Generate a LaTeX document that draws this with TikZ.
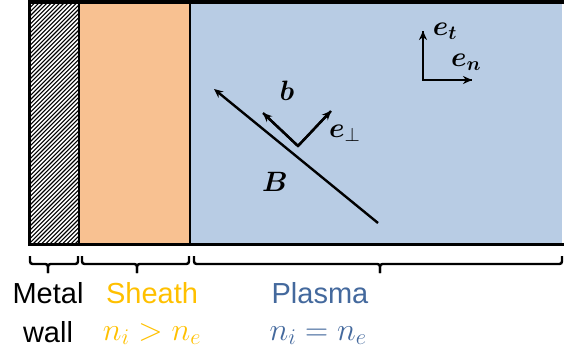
\documentclass[tikz,border=0pt]{standalone}
\usepackage{fix-cm}
\usepackage{amsmath}
\usepackage{bm}
\usepackage{fontspec}
\setmainfont{Liberation Sans}
\usetikzlibrary{arrows.meta}
\definecolor{sheathfill}{HTML}{F8C191}
\definecolor{plasmafill}{HTML}{B8CCE4}
\definecolor{sheathtxt}{HTML}{FFC000}
\definecolor{plasmatxt}{HTML}{44699D}
\tikzset{
  border/.style={line width=3pt, line cap=rect},
  vec/.style={line width=2.4pt, -{Stealth[length=9pt,width=8pt]}},
  bracestyle/.style={line width=2.4pt, rounded corners=2.5pt},
  lbl/.style={font=\fontsize{29}{34}\selectfont, anchor=base, inner sep=0pt},
  mlbl/.style={font=\fontsize{32}{38}\selectfont, anchor=base, inner sep=0pt},
  vlbl/.style={font=\fontsize{28}{32}\selectfont, inner sep=0pt},
}
\begin{document}
\begin{tikzpicture}[x=1pt,y=-1pt]
\useasboundingbox (0,0) rectangle (582,364);
% regions
\fill[white] (29,2) rectangle (79,244);
\fill[sheathfill] (79,2) rectangle (190,244);
\fill[plasmafill] (190,2) rectangle (562,244);
\begin{scope}
  \clip (29,2) rectangle (79,244);
  \foreach \i in {-60,...,14}
    \draw[line width=1.1pt] ({29+\i*4.2},248) -- ++(250,-250);
\end{scope}
\draw[border] (562,2) -- (29,2) -- (29,244) -- (562,244);
\draw[line width=2pt] (79,2) -- (79,244);
\draw[line width=2.6pt] (190,2) -- (190,244);
% field vectors
\coordinate (Bs) at (378,223);
\coordinate (Be) at (214,89);
\draw[vec] (Bs) -- (Be);
\coordinate (c) at (298,146);
\coordinate (bt) at (263,113);
\coordinate (pt) at (331,111);
\draw[line width=2.4pt] (bt) -- (c) -- (pt);
\draw[vec] (c) -- (bt);
\draw[vec] (c) -- (pt);
\node[vlbl] (lb) at (287,91) {$\bm{b}$};
\node[vlbl,anchor=west] (lp) at (329,133) {$\bm{e}_{\perp}$};
\node[vlbl] (lB) at (275,182) {$\bm{B}$};
% coordinate system
\coordinate (o) at (423,80);
\coordinate (t) at (423,31);
\coordinate (n) at (472,80);
\draw[line width=2.4pt] (t) -- (o) -- (n);
\draw[vec] (o) -- (t);
\draw[vec] (o) -- (n);
\node[vlbl] (lt) at (445,31) {$\bm{e}_{\bm{t}}$};
\node[vlbl] (ln) at (466,62) {$\bm{e}_{\bm{n}}$};
% braces
\draw[bracestyle] (30,256) -- (30,264) -- (48,264) -- (48,273);
\draw[bracestyle] (48,273) -- (48,264) -- (78,264) -- (78,256);
\draw[bracestyle] (82,256) -- (82,264) -- (137,264) -- (137,273);
\draw[bracestyle] (137,273) -- (137,264) -- (189,264) -- (189,256);
\draw[bracestyle] (194,256) -- (194,264) -- (380,264) -- (380,273);
\draw[bracestyle] (380,273) -- (380,264) -- (562,264) -- (562,256);
% labels
\node[lbl] (metal) at (48,303) {Metal};
\node[lbl] (wall) at (48,342) {wall};
\node[lbl, text=sheathtxt] (sheath) at (152,303) {Sheath};
\node[mlbl, text=sheathtxt] (sheq) at (152,340) {$n_i > n_e$};
\node[lbl, text=plasmatxt] (plasma) at (320,303) {Plasma};
\node[mlbl, text=plasmatxt] (pleq) at (318,340) {$n_i = n_e$};
\end{tikzpicture}
\end{document}
